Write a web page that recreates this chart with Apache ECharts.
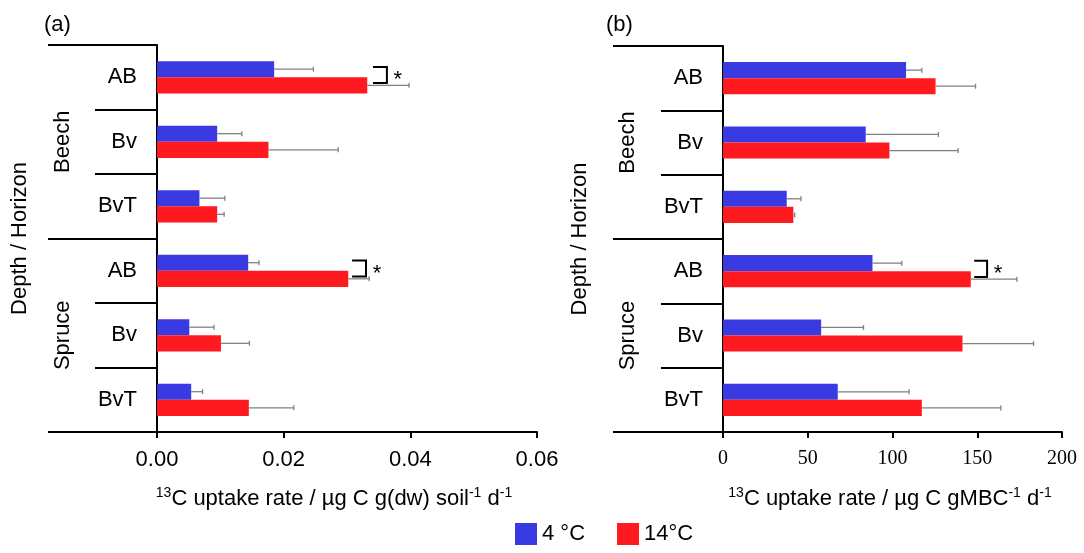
<!DOCTYPE html>
<html><head><meta charset="utf-8">
<script src="https://cdn.jsdelivr.net/npm/echarts@6/dist/echarts.min.js"></script>
<style>html,body{margin:0;padding:0;background:#fff}#c{width:1084px;height:553px}</style>
</head><body><div id="c"></div>
<script>
// ---- data ----
const horizons = ['AB', 'Bv', 'BvT', 'AB', 'Bv', 'BvT'];
const species = ['Beech', 'Spruce'];
const seriesNames = ['4 °C', '14°C'];
// panel (a): uptake per g soil
const soilCold = [0.0185, 0.0095, 0.0067, 0.0144, 0.0051, 0.0054];
const soilColdErr = [0.0062, 0.0039, 0.0040, 0.0017, 0.0039, 0.0018];
const soilWarm = [0.0332, 0.0176, 0.0095, 0.0302, 0.0101, 0.0145];
const soilWarmErr = [0.0066, 0.0110, 0.0011, 0.0033, 0.0045, 0.0071];
// panel (b): uptake per g MBC
const mbcCold = [108, 84.2, 37.6, 88.2, 57.9, 67.7];
const mbcColdErr = [9.3, 42.9, 8.4, 17.3, 25, 42.1];
const mbcWarm = [125.4, 98.2, 41.5, 146.2, 141.3, 117.3];
const mbcWarmErr = [23.6, 40.5, 0.8, 27.2, 41.9, 46.6];
// significance brackets: [category index, bracket start, bracket end]
const soilSig = [[0, 0.0341, 0.0363], [3, 0.0308, 0.0330]];
const mbcSig = [[3, 148.2, 155.8]];

const SANS = 'Liberation Sans, Arial, sans-serif';
const SERIF = 'Liberation Serif, Times New Roman, serif';
const BLUE = '#3a3ae2', RED = '#ff1a1f';

function errorBars(values, errs, sign, idx) {
  return {
    type: 'custom', xAxisIndex: idx, yAxisIndex: idx, silent: true, z: 3,
    data: values.map((v, i) => [v, i, v + errs[i]]),
    encode: { x: [0, 2], y: 1 },
    renderItem(params, api) {
      const c = api.value(1);
      const p0 = api.coord([api.value(0), c]);
      const p1 = api.coord([api.value(2), c]);
      const band = api.size([0, 1])[1];
      const y = p0[1] + sign * band * 0.125;
      const cap = 2.5;
      const st = { stroke: '#808080', lineWidth: 1.3 };
      return { type: 'group', children: [
        { type: 'line', shape: { x1: p0[0], y1: y, x2: p1[0], y2: y }, style: st },
        { type: 'line', shape: { x1: p1[0], y1: y - cap, x2: p1[0], y2: y + cap }, style: st }
      ] };
    }
  };
}
function sigBrackets(sig, idx) {
  return {
    type: 'custom', xAxisIndex: idx, yAxisIndex: idx, silent: true, z: 4,
    data: sig.map(s => [s[1], s[0], s[2]]),
    encode: { x: [0, 2], y: 1 },
    renderItem(params, api) {
      const c = api.value(1);
      const a = api.coord([api.value(0), c]);
      const b = api.coord([api.value(2), c]);
      const band = api.size([0, 1])[1];
      const top = a[1] - band * 0.16, bot = a[1] + band * 0.09;
      return { type: 'group', children: [
        { type: 'polyline', shape: { points: [[a[0], top], [b[0], top], [b[0], bot], [a[0], bot]] },
          style: { stroke: '#000', lineWidth: 2, fill: null } },
        { type: 'text', style: { text: '*', x: b[0] + 11, y: a[1] + 3, fontSize: 22, fontFamily: SANS,
          align: 'center', verticalAlign: 'middle', fill: '#000' } }
      ] };
    }
  };
}
function bars(data, name, color, idx) {
  return { type: 'bar', name, xAxisIndex: idx, yAxisIndex: idx, data, barGap: '0%', barCategoryGap: '50%',
    itemStyle: { color }, z: 2 };
}
const black = { color: '#000', width: 2 };
function innerY(grid) {
  return { type: 'category', gridIndex: grid, data: horizons, inverse: true,
    axisLine: { show: true, lineStyle: black },
    axisTick: { show: true, interval: 0, alignWithLabel: false, length: 62, lineStyle: black },
    axisLabel: { fontSize: 22, color: '#000', margin: 20, fontFamily: SANS } };
}
function outerY(grid, tickLen, labelMargin, nameGap) {
  return { type: 'category', gridIndex: grid, data: species, inverse: true,
    axisLine: { show: false },
    axisTick: { show: true, interval: 0, alignWithLabel: false, length: tickLen, lineStyle: black },
    axisLabel: { fontSize: 22, color: '#000', rotate: 90, margin: labelMargin, fontFamily: SANS },
    name: 'Depth / Horizon', nameLocation: 'middle', nameRotate: 90, nameGap,
    nameTextStyle: { fontSize: 22, color: '#000', fontFamily: SANS } };
}
function nameStyle(padRight) {
  return { fontSize: 22, color: '#000', fontFamily: SANS, lineHeight: 26, padding: [0, padRight, 0, 0],
    rich: { s: { fontSize: 14, lineHeight: 14, verticalAlign: 'top', fontFamily: SANS, color: '#000' } } };
}

const chart = echarts.init(document.getElementById('c'));
chart.setOption({
  animation: false,
  textStyle: { fontFamily: SANS },
  title: [
    { text: '(a)', left: 44, top: 14, padding: 0, textStyle: { fontSize: 22, fontWeight: 'normal', color: '#000', fontFamily: SANS } },
    { text: '(b)', left: 606, top: 14, padding: 0, textStyle: { fontSize: 22, fontWeight: 'normal', color: '#000', fontFamily: SANS } }
  ],
  legend: { left: 515, top: 523, padding: 0, itemWidth: 22, itemHeight: 22, itemGap: 32, icon: 'rect',
    textStyle: { fontSize: 22, color: '#000', fontFamily: SANS }, data: seriesNames },
  grid: [
    { left: 157, top: 45, width: 380, height: 387 },
    { left: 157, top: 45, width: 380, height: 387 },
    { left: 723, top: 46, width: 339, height: 386 },
    { left: 723, top: 46, width: 339, height: 386 }
  ],
  xAxis: [
    { type: 'value', gridIndex: 0, min: 0, max: 0.06, interval: 0.02,
      axisLine: { show: true, lineStyle: black }, axisTick: { show: true, length: 6, lineStyle: black },
      splitLine: { show: false },
      axisLabel: { fontSize: 22, color: '#000', margin: 17, fontFamily: SANS, formatter: v => v.toFixed(2) },
      name: '{s|13}C uptake rate / µg C g(dw) soil{s|-1} d{s|-1}', nameLocation: 'middle', nameGap: 54,
      nameTextStyle: nameStyle(26) },
    { type: 'value', gridIndex: 1, show: false, min: 0, max: 1 },
    { type: 'value', gridIndex: 2, min: 0, max: 200, interval: 50,
      axisLine: { show: true, lineStyle: black }, axisTick: { show: true, length: 6, lineStyle: black },
      splitLine: { show: false },
      axisLabel: { fontSize: 20, color: '#000', margin: 17, fontFamily: SERIF },
      name: '{s|13}C uptake rate / µg C gMBC{s|-1} d{s|-1}', nameLocation: 'middle', nameGap: 54,
      nameTextStyle: nameStyle(5) },
    { type: 'value', gridIndex: 3, show: false, min: 0, max: 1 }
  ],
  yAxis: [
    innerY(0),
    outerY(1, 109, 83, 126),
    innerY(2),
    outerY(3, 110, 84, 132)
  ],
  series: [
    bars(soilCold, seriesNames[0], BLUE, 0),
    bars(soilWarm, seriesNames[1], RED, 0),
    errorBars(soilCold, soilColdErr, -1, 0),
    errorBars(soilWarm, soilWarmErr, 1, 0),
    sigBrackets(soilSig, 0),
    bars(mbcCold, seriesNames[0], BLUE, 2),
    bars(mbcWarm, seriesNames[1], RED, 2),
    errorBars(mbcCold, mbcColdErr, -1, 2),
    errorBars(mbcWarm, mbcWarmErr, 1, 2),
    sigBrackets(mbcSig, 2)
  ]
});
</script></body></html>
